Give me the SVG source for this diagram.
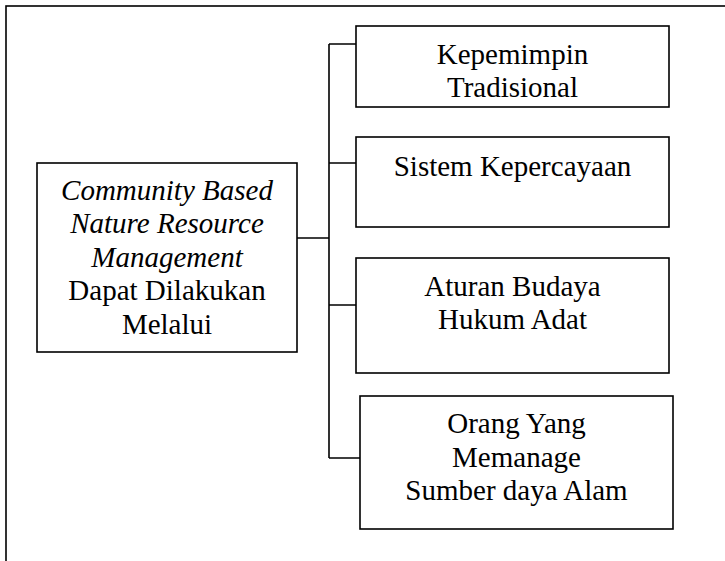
<svg xmlns="http://www.w3.org/2000/svg" width="725" height="561" viewBox="0 0 725 561">
<style>
.box{fill:#fff;stroke:#000;stroke-width:1.6}
.frame{fill:none;stroke:#000;stroke-width:1.6}
.conn{fill:none;stroke:#000;stroke-width:1.6}
text{font-family:"Liberation Serif","Times New Roman",serif;font-size:29px;fill:#000;text-anchor:middle}
.it{font-style:italic}
</style>
<rect x="0" y="0" width="725" height="561" fill="#fff"/>
<rect class="frame" x="6" y="6" width="740" height="580"/>
<g id="connectors">
<path class="conn" d="M297 238 H329 M329 44 V458 M329 44 H356 M329 163 H356 M329 305 H356 M329 458 H360"/>
</g>
<g id="main">
<rect class="box" x="37" y="163" width="260" height="189"/>
<text class="it" x="167" y="200">Community Based</text>
<text class="it" x="167" y="233">Nature Resource</text>
<text class="it" x="167" y="267">Management</text>
<text x="167" y="300">Dapat Dilakukan</text>
<text x="167" y="334">Melalui</text>
</g>
<g id="n1">
<rect class="box" x="356" y="26" width="313" height="81"/>
<text x="512.5" y="64">Kepemimpin</text>
<text x="512.5" y="97">Tradisional</text>
</g>
<g id="n2">
<rect class="box" x="356" y="137" width="313" height="90"/>
<text x="512.5" y="176">Sistem Kepercayaan</text>
</g>
<g id="n3">
<rect class="box" x="356" y="258" width="313" height="115"/>
<text x="512.5" y="296">Aturan Budaya</text>
<text x="512.5" y="329">Hukum Adat</text>
</g>
<g id="n4">
<rect class="box" x="360" y="396" width="313" height="133"/>
<text x="516.5" y="433">Orang Yang</text>
<text x="516.5" y="467">Memanage</text>
<text x="516.5" y="500">Sumber daya Alam</text>
</g>
</svg>
